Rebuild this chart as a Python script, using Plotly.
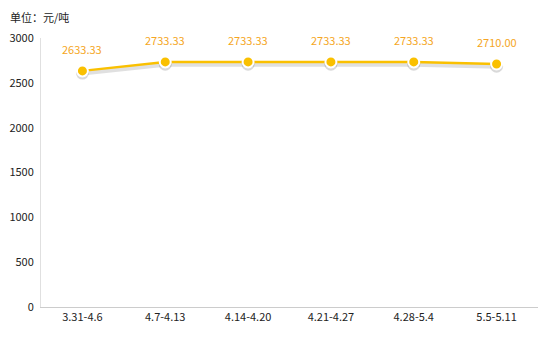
import plotly.graph_objects as go

categories = ["3.31-4.6", "4.7-4.13", "4.14-4.20", "4.21-4.27", "4.28-5.4", "5.5-5.11"]
values = [2633.33, 2733.33, 2733.33, 2733.33, 2733.33, 2710.00]
y_ticks = [0, 500, 1000, 1500, 2000, 2500, 3000]

font = "Noto Sans CJK SC, Microsoft YaHei, sans-serif"

fig = go.Figure()
# soft shadow under the line
fig.add_trace(go.Scatter(
    x=categories, y=[v - 25 for v in values], mode="lines+markers",
    line=dict(color="rgba(0,0,0,0.12)", width=5),
    marker=dict(size=13, color="rgba(0,0,0,0.15)"),
    hoverinfo="skip", showlegend=False,
))
fig.add_trace(go.Scatter(
    x=categories, y=values, mode="lines+markers",
    line=dict(color="#FAC000", width=2.5),
    marker=dict(size=11, color="#FAC000", line=dict(color="white", width=2)),
    showlegend=False,
))
for c, v in zip(categories, values):
    fig.add_annotation(x=c, y=v, text=f"{v:.2f}", showarrow=False, yshift=22,
                       font=dict(color="#F5A623", size=11, family=font))

fig.update_layout(
    width=545, height=342,
    margin=dict(l=41, r=7, t=38, b=35),
    paper_bgcolor="white", plot_bgcolor="white",
    font=dict(family=font, size=11, color="#222"),
)
fig.add_annotation(text="单位：元/吨", xref="paper", yref="paper", x=-33/497, y=1 + 21/269,
                   xanchor="left", yanchor="middle", showarrow=False,
                   font=dict(size=11, color="#222", family=font))
fig.update_xaxes(
    range=[-0.5, 5.5], showgrid=False, showline=True, linecolor="#CCCCCC", linewidth=1,
    ticks="", tickfont=dict(size=11, color="#222"), zeroline=False,
)
fig.update_yaxes(
    range=[0, 3000], tickvals=y_ticks, showgrid=False, showline=True, linecolor="#E0E0E0",
    linewidth=1, ticks="", ticklabelstandoff=4, tickfont=dict(size=11, color="#222"), zeroline=False,
)
fig.write_html("out.html")
